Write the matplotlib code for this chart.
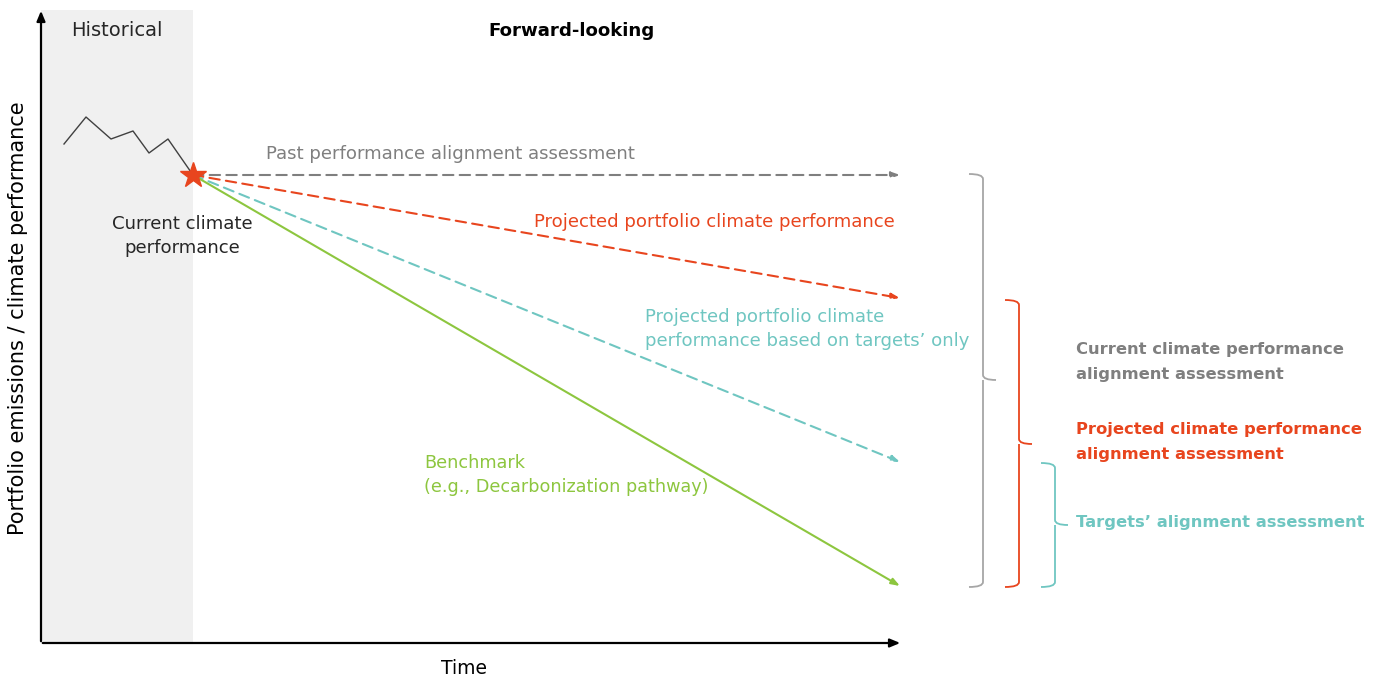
import matplotlib
matplotlib.use("Agg")
import matplotlib.pyplot as plt
from matplotlib.path import Path
from matplotlib.patches import PathPatch, Rectangle

# historical track (time, level) - diagram units are pixel-like
hist_x = [64, 86, 111, 133, 149, 168, 193]
hist_y = [144, 117, 139, 131, 153, 139, 175]

# forward-looking paths, all start at the current point
now_x, now_y = 193, 175
end_x = 900
path_names = ["past", "projected", "targets", "benchmark"]
path_end_y = [175, 298, 462, 586]
path_colors = ["#7f7f7f", "#e8451e", "#6fc6c1", "#8dc63f"]
path_styles = [(0, (5, 3)), (0, (5, 3)), (0, (5, 3)), "-"]

# braces on the right: (top, bottom, tip, colour)
brace_top = [174, 300, 463]
brace_bottom = [587, 587, 587]
brace_tip = [380, 444, 525]
brace_x = [983, 1019, 1055]
brace_colors = ["#a6a6a6", "#e8451e", "#6fc6c1"]

fig = plt.figure(figsize=(13.79, 6.81), dpi=100)
ax = fig.add_axes([0, 0, 1, 1])
ax.set_xlim(0, 1379)
ax.set_ylim(681, 0)
ax.axis("off")

# historical shading
ax.add_patch(Rectangle((41, 10), 152, 633, facecolor="#f0f0f0", edgecolor="none", zorder=0))

# axes arrows
ax.annotate("", xy=(41, 8), xytext=(41, 644),
            arrowprops=dict(arrowstyle="-|>,head_width=0.25,head_length=0.6", color="black", lw=1.6))
ax.annotate("", xy=(903, 643), xytext=(40, 643),
            arrowprops=dict(arrowstyle="-|>,head_width=0.25,head_length=0.6", color="black", lw=1.6))

ax.plot(hist_x, hist_y, color="#404040", lw=1.0, zorder=3)

for name, ey, c, ls in zip(path_names, path_end_y, path_colors, path_styles):
    ax.annotate("", xy=(end_x, ey), xytext=(now_x, now_y),
                arrowprops=dict(arrowstyle="-|>,head_width=0.18,head_length=0.5", color=c, lw=1.5,
                                linestyle=ls, shrinkA=0, shrinkB=0), zorder=2)

ax.plot([now_x], [now_y], marker="*", markersize=19, color="#e8451e", markeredgecolor="#e8451e", zorder=5)

fs = 13.1
ax.text(117, 31, "Historical", ha="center", va="center", fontsize=14, color="#262626")
ax.text(572, 31, "Forward-looking", ha="center", va="center", fontsize=fs, fontweight="bold", color="black")
ax.text(266, 154, "Past performance alignment assessment", ha="left", va="center", fontsize=fs, color="#7f7f7f")
ax.text(182, 236, "Current climate\nperformance", ha="center", va="center", fontsize=fs,
        color="#262626", linespacing=1.45)
ax.text(895, 222, "Projected portfolio climate performance", ha="right", va="center", fontsize=fs,
        color="#e8451e")
ax.text(645, 329, "Projected portfolio climate\nperformance based on targets\u2019 only", ha="left",
        va="center", fontsize=fs, color="#6fc6c1", linespacing=1.45)
ax.text(424, 475, "Benchmark\n(e.g., Decarbonization pathway)", ha="left", va="center", fontsize=12.7,
        color="#8dc63f", linespacing=1.5)
ax.text(18, 318, "Portfolio emissions / climate performance", ha="center", va="center", fontsize=15,
        rotation=90, color="black")
ax.text(464, 668, "Time", ha="center", va="center", fontsize=13.5, color="black")

rfs = 11.8
ax.text(1076, 362, "Current climate performance\nalignment assessment", ha="left", va="center",
        fontsize=rfs, color="#7f7f7f", fontweight="semibold", linespacing=1.8)
ax.text(1076, 442, "Projected climate performance\nalignment assessment", ha="left", va="center",
        fontsize=rfs, color="#e8451e", fontweight="semibold", linespacing=1.8)
ax.text(1076, 523, "Targets\u2019 alignment assessment", ha="left", va="center",
        fontsize=rfs, color="#6fc6c1", fontweight="semibold")

# braces
for top, bot, tip, vx, c in zip(brace_top, brace_bottom, brace_tip, brace_x, brace_colors):
    left = vx - 14
    tx = vx + 13
    verts = [(left, top), (vx, top), (vx, top + 5), (vx, tip - 5), (vx, tip), (tx, tip),
             (vx, tip), (vx, tip + 5), (vx, bot - 5), (vx, bot), (left, bot)]
    codes = [Path.MOVETO, Path.CURVE3, Path.CURVE3, Path.LINETO, Path.CURVE3, Path.CURVE3,
             Path.MOVETO, Path.CURVE3, Path.LINETO, Path.CURVE3, Path.CURVE3]
    ax.add_patch(PathPatch(Path(verts, codes), facecolor="none", edgecolor=c, lw=1.3))

fig.savefig("out.png", dpi=100)
